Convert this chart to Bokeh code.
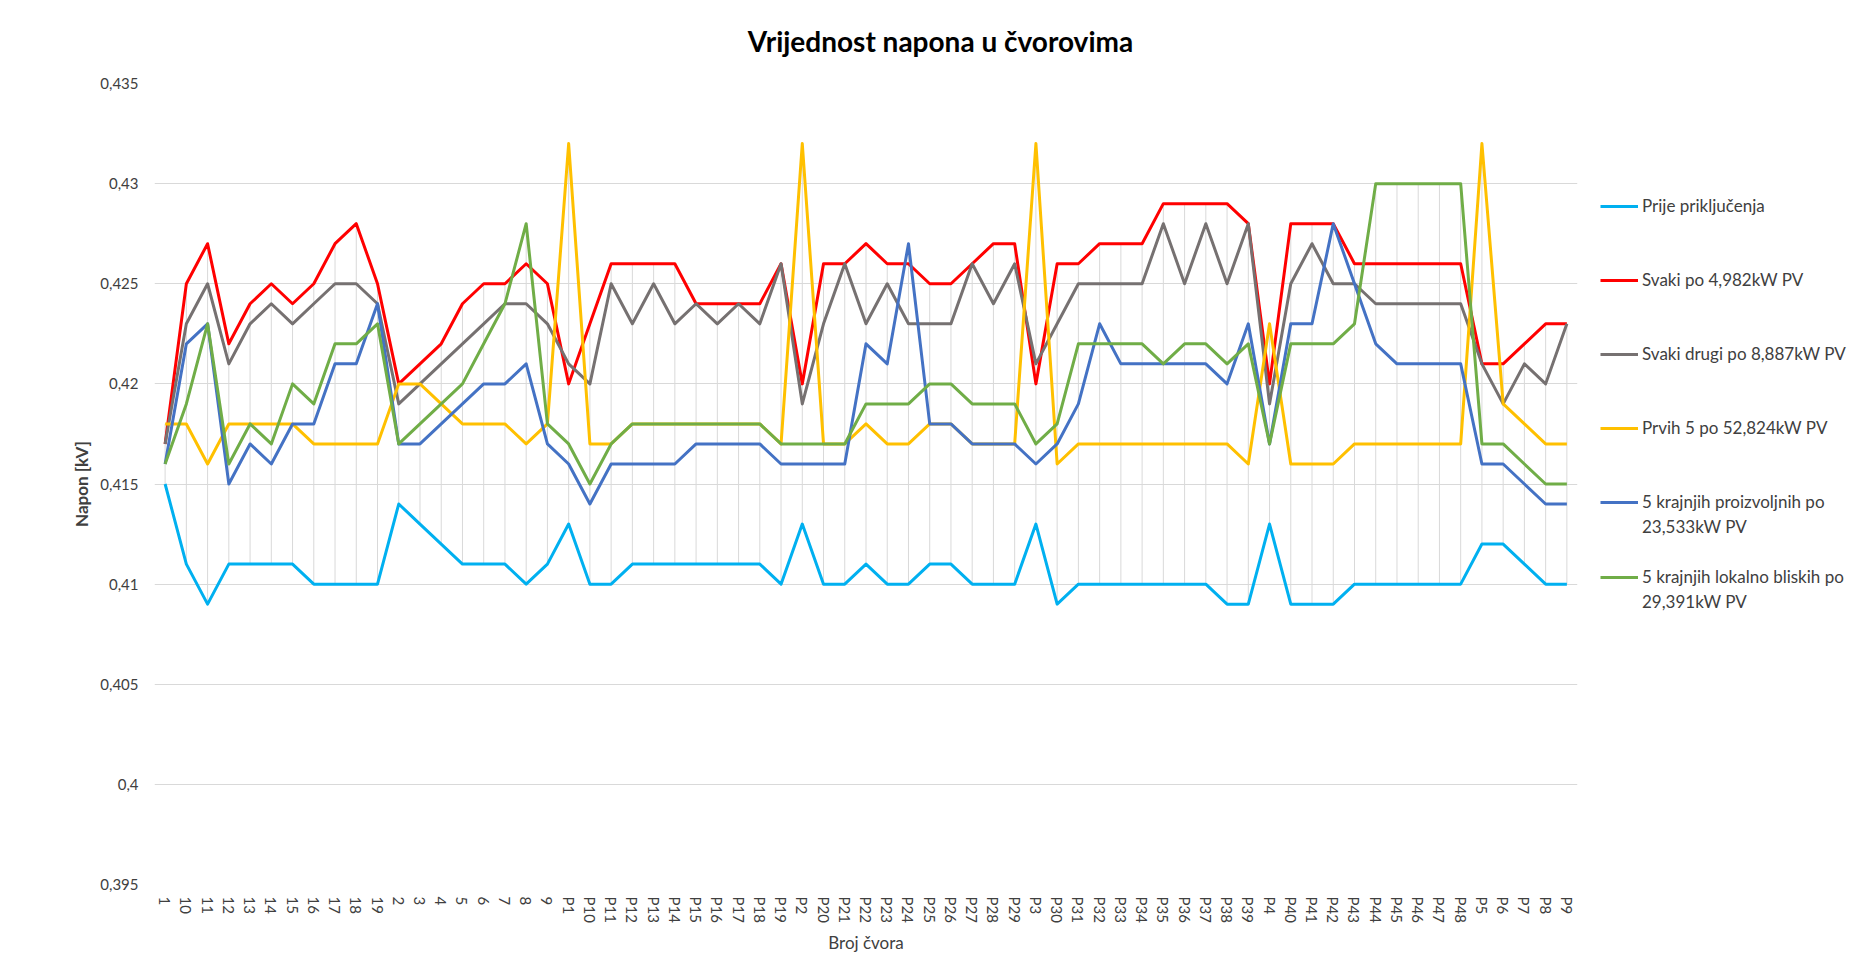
from bokeh.plotting import figure
from bokeh.models import (FactorRange, Range1d, FixedTicker, Legend, LegendItem, Label)
from bokeh.layouts import row, column
from bokeh.embed import file_html
from bokeh.resources import INLINE

categories = ["1", "10", "11", "12", "13", "14", "15", "16", "17", "18", "19",
              "2", "3", "4", "5", "6", "7", "8", "9",
              "P1", "P10", "P11", "P12", "P13", "P14", "P15", "P16", "P17", "P18", "P19",
              "P2", "P20", "P21", "P22", "P23", "P24", "P25", "P26", "P27", "P28", "P29",
              "P3", "P30", "P31", "P32", "P33", "P34", "P35", "P36", "P37", "P38", "P39",
              "P4", "P40", "P41", "P42", "P43", "P44", "P45", "P46", "P47", "P48",
              "P5", "P6", "P7", "P8", "P9"]

prije = [0.415, 0.411, 0.409, 0.411, 0.411, 0.411, 0.411, 0.410, 0.410, 0.410, 0.410,
         0.414, 0.413, 0.412, 0.411, 0.411, 0.411, 0.410, 0.411,
         0.413, 0.410, 0.410, 0.411, 0.411, 0.411, 0.411, 0.411, 0.411, 0.411, 0.410,
         0.413, 0.410, 0.410, 0.411, 0.410, 0.410, 0.411, 0.411, 0.410, 0.410, 0.410,
         0.413, 0.409, 0.410, 0.410, 0.410, 0.410, 0.410, 0.410, 0.410, 0.409, 0.409,
         0.413, 0.409, 0.409, 0.409, 0.410, 0.410, 0.410, 0.410, 0.410, 0.410,
         0.412, 0.412, 0.411, 0.410, 0.410]

svaki = [0.417, 0.425, 0.427, 0.422, 0.424, 0.425, 0.424, 0.425, 0.427, 0.428, 0.425,
         0.420, 0.421, 0.422, 0.424, 0.425, 0.425, 0.426, 0.425,
         0.420, 0.423, 0.426, 0.426, 0.426, 0.426, 0.424, 0.424, 0.424, 0.424, 0.426,
         0.420, 0.426, 0.426, 0.427, 0.426, 0.426, 0.425, 0.425, 0.426, 0.427, 0.427,
         0.420, 0.426, 0.426, 0.427, 0.427, 0.427, 0.429, 0.429, 0.429, 0.429, 0.428,
         0.420, 0.428, 0.428, 0.428, 0.426, 0.426, 0.426, 0.426, 0.426, 0.426,
         0.421, 0.421, 0.422, 0.423, 0.423]

svaki_drugi = [0.417, 0.423, 0.425, 0.421, 0.423, 0.424, 0.423, 0.424, 0.425, 0.425, 0.424,
               0.419, 0.420, 0.421, 0.422, 0.423, 0.424, 0.424, 0.423,
               0.421, 0.420, 0.425, 0.423, 0.425, 0.423, 0.424, 0.423, 0.424, 0.423, 0.426,
               0.419, 0.423, 0.426, 0.423, 0.425, 0.423, 0.423, 0.423, 0.426, 0.424, 0.426,
               0.421, 0.423, 0.425, 0.425, 0.425, 0.425, 0.428, 0.425, 0.428, 0.425, 0.428,
               0.419, 0.425, 0.427, 0.425, 0.425, 0.424, 0.424, 0.424, 0.424, 0.424,
               0.421, 0.419, 0.421, 0.420, 0.423]

prvih5 = [0.418, 0.418, 0.416, 0.418, 0.418, 0.418, 0.418, 0.417, 0.417, 0.417, 0.417,
          0.420, 0.420, 0.419, 0.418, 0.418, 0.418, 0.417, 0.418,
          0.432, 0.417, 0.417, 0.418, 0.418, 0.418, 0.418, 0.418, 0.418, 0.418, 0.417,
          0.432, 0.417, 0.417, 0.418, 0.417, 0.417, 0.418, 0.418, 0.417, 0.417, 0.417,
          0.432, 0.416, 0.417, 0.417, 0.417, 0.417, 0.417, 0.417, 0.417, 0.417, 0.416,
          0.423, 0.416, 0.416, 0.416, 0.417, 0.417, 0.417, 0.417, 0.417, 0.417,
          0.432, 0.419, 0.418, 0.417, 0.417]

proizvoljnih = [0.416, 0.422, 0.423, 0.415, 0.417, 0.416, 0.418, 0.418, 0.421, 0.421, 0.424,
                0.417, 0.417, 0.418, 0.419, 0.420, 0.420, 0.421, 0.417,
                0.416, 0.414, 0.416, 0.416, 0.416, 0.416, 0.417, 0.417, 0.417, 0.417, 0.416,
                0.416, 0.416, 0.416, 0.422, 0.421, 0.427, 0.418, 0.418, 0.417, 0.417, 0.417,
                0.416, 0.417, 0.419, 0.423, 0.421, 0.421, 0.421, 0.421, 0.421, 0.420, 0.423,
                0.417, 0.423, 0.423, 0.428, 0.425, 0.422, 0.421, 0.421, 0.421, 0.421,
                0.416, 0.416, 0.415, 0.414, 0.414]

lokalno = [0.416, 0.419, 0.423, 0.416, 0.418, 0.417, 0.420, 0.419, 0.422, 0.422, 0.423,
           0.417, 0.418, 0.419, 0.420, 0.422, 0.424, 0.428, 0.418,
           0.417, 0.415, 0.417, 0.418, 0.418, 0.418, 0.418, 0.418, 0.418, 0.418, 0.417,
           0.417, 0.417, 0.417, 0.419, 0.419, 0.419, 0.420, 0.420, 0.419, 0.419, 0.419,
           0.417, 0.418, 0.422, 0.422, 0.422, 0.422, 0.421, 0.422, 0.422, 0.421, 0.422,
           0.417, 0.422, 0.422, 0.422, 0.423, 0.430, 0.430, 0.430, 0.430, 0.430,
           0.417, 0.417, 0.416, 0.415, 0.415]

series_names = ["Prije priključenja", "Svaki po 4,982kW PV", "Svaki drugi po 8,887kW PV",
                "Prvih 5 po 52,824kW PV", "5 krajnjih proizvoljnih po", "5 krajnjih lokalno bliskih po"]
series_extra = [None, None, None, None, "23,533kW PV", "29,391kW PV"]
series_values = [prije, svaki, svaki_drugi, prvih5, proizvoljnih, lokalno]
series_colors = ["#00B0F0", "#FF0000", "#767171", "#FFC000", "#4472C4", "#70AD47"]

y_ticks = [0.395, 0.4, 0.405, 0.41, 0.415, 0.42, 0.425, 0.43, 0.435]
y_tick_labels = ["0,395", "0,4", "0,405", "0,41", "0,415", "0,42", "0,425", "0,43", "0,435"]

title_text = "Vrijednost napona u čvorovima"
x_label = "Broj čvora"
y_label = "Napon [kV]"

FONT = "Lato"
TXT = "#404040"

# ---- layout geometry (page pixels) ----
TOTAL_W = 1865
TITLE_H = 68
FRAME_L, FRAME_R = 154, 1577
FRAME_T, FRAME_B = 83, 884
MAIN_MR = 10
MAIN_MB = 86
MAIN_W = FRAME_R + MAIN_MR
MAIN_H = (FRAME_T - TITLE_H) + (FRAME_B - FRAME_T) + MAIN_MB
LEG_W = TOTAL_W - MAIN_W

# ---- title strip ----
tf = figure(width=TOTAL_W, height=TITLE_H, x_range=Range1d(0, 1), y_range=Range1d(0, 1),
            output_backend="svg", toolbar_location=None, title=None,
            x_axis_type=None, y_axis_type=None, min_border=0)
tf.outline_line_color = None
tf.grid.visible = False
tf.add_layout(Label(x=940, y=TITLE_H - 40, x_units="screen", y_units="screen", text=title_text,
                    text_align="center", text_baseline="middle", text_font=FONT,
                    text_font_size="28px", text_font_style="bold", text_color="#000000"))

# ---- main plot ----
p = figure(width=MAIN_W, height=MAIN_H, x_range=FactorRange(factors=categories),
           y_range=Range1d(0.395, 0.435), output_backend="svg", toolbar_location=None,
           title=None, min_border_left=FRAME_L, min_border_right=MAIN_MR,
           min_border_top=FRAME_T - TITLE_H, min_border_bottom=MAIN_MB)
p.outline_line_color = None

p.yaxis.ticker = FixedTicker(ticks=y_ticks)
p.yaxis.major_label_overrides = {t: l for t, l in zip(y_ticks, y_tick_labels)}
p.yaxis.axis_line_color = None
p.yaxis.major_tick_line_color = None
p.yaxis.minor_tick_line_color = None
p.yaxis.major_tick_out = 0
p.yaxis.major_tick_in = 0
p.yaxis.minor_tick_out = 0
p.yaxis.major_label_standoff = 16
p.yaxis.major_label_text_font = FONT
p.yaxis.major_label_text_font_size = "15px"
p.yaxis.major_label_text_color = TXT
p.yaxis.axis_label = y_label
p.yaxis.axis_label_text_font = FONT
p.yaxis.axis_label_text_font_size = "17px"
p.yaxis.axis_label_text_font_style = "bold"
p.yaxis.axis_label_text_color = TXT
p.yaxis.axis_label_standoff = 5
p.ygrid.ticker = FixedTicker(ticks=y_ticks)
p.ygrid.grid_line_color = "#D9D9D9"
p.ygrid.grid_line_width = 1

p.xaxis.axis_line_color = None
p.xaxis.major_tick_line_color = None
p.xaxis.minor_tick_line_color = None
p.xaxis.major_tick_out = 0
p.xaxis.major_tick_in = 0
p.xaxis.major_label_orientation = "vertical"
p.xaxis.major_label_standoff = 12
p.xaxis.major_label_text_font = FONT
p.xaxis.major_label_text_font_size = "15px"
p.xaxis.major_label_text_color = TXT
p.xaxis.axis_label = x_label
p.xaxis.axis_label_text_font = FONT
p.xaxis.axis_label_text_font_size = "17px"
p.xaxis.axis_label_text_font_style = "normal"
p.xaxis.axis_label_text_color = TXT
p.xaxis.axis_label_standoff = 6
p.xgrid.grid_line_color = None

# high-low lines
lows = [min(vals) for vals in zip(*series_values)]
highs = [max(vals) for vals in zip(*series_values)]
p.segment(x0=categories, y0=lows, x1=categories, y1=highs, line_color="#D9D9D9", line_width=1)

for vals, col in zip(series_values, series_colors):
    p.line(x=categories, y=vals, line_color=col, line_width=3, line_join="round")

# ---- legend strip ----
lf = figure(width=LEG_W, height=MAIN_H, x_range=Range1d(0, 1), y_range=Range1d(0, 1),
            output_backend="svg", toolbar_location=None, title=None,
            x_axis_type=None, y_axis_type=None, min_border=0)
lf.outline_line_color = None
lf.grid.visible = False

# single off-range point: draws nothing in the strip, but gives the legend a glyph style
leg_renderers = [lf.line(x=[-5], y=[-5], line_color=col, line_width=3) for col in series_colors]
blank = lf.line(x=[-5], y=[-5], line_alpha=0)

leg_x = 1600 - MAIN_W
leg_centers = [206, 280, 354, 428, 502, 577]
entries = []
for name, extra, r, yc in zip(series_names, series_extra, leg_renderers, leg_centers):
    entries.append((name, r, yc))
    if extra:
        entries.append((extra, blank, yc + 25))
for text, r, yc in entries:
    leg = Legend(items=[LegendItem(label=text, renderers=[r])],
                 location=(leg_x, FRAME_B - yc - 10),
                 padding=0, margin=0, spacing=0, glyph_width=38, glyph_height=20,
                 label_height=20, label_standoff=4,
                 label_text_font=FONT, label_text_font_size="17px", label_text_color=TXT,
                 border_line_color=None, background_fill_alpha=0)
    lf.add_layout(leg, "center")

layout = column(tf, row(p, lf))
open("out.html", "w").write(file_html(layout, INLINE))
